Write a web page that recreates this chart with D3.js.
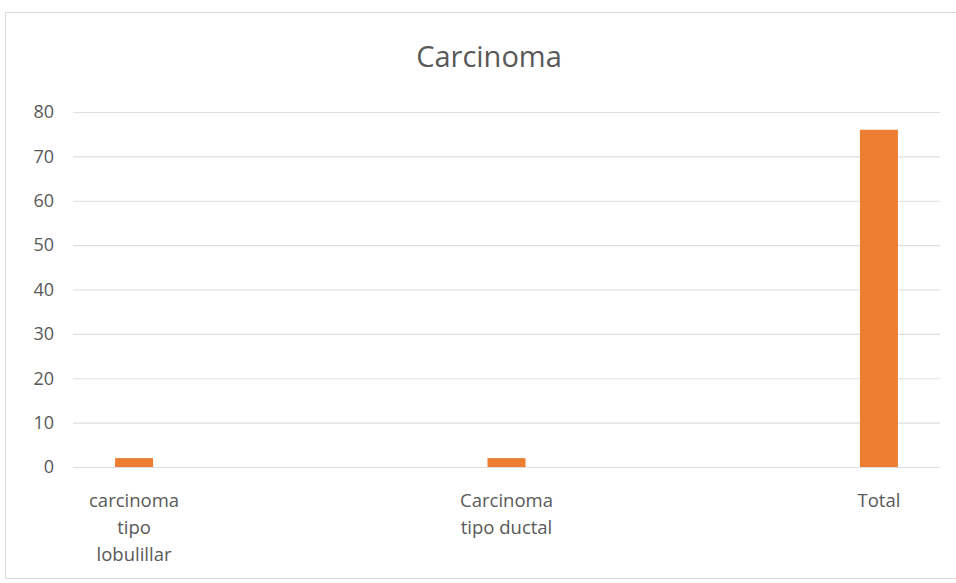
<!DOCTYPE html>
<html>
<head>
<meta charset="utf-8">
<script src="https://cdn.jsdelivr.net/npm/d3@7"></script>
<style>
  html, body { margin: 0; padding: 0; background: #fff; }
  svg { display: block; font-family: "Open Sans", Lato, sans-serif; }
</style>
</head>
<body>
<svg id="chart" width="956" height="583"></svg>
<script>
// Cases per carcinoma type
const categories = [["carcinoma", "tipo", "lobulillar"], ["Carcinoma", "tipo ductal"], ["Total"]];
const values = [2, 2, 76];
const yTicks = [0, 10, 20, 30, 40, 50, 60, 70, 80];
const title = "Carcinoma";

const svg = d3.select("#chart");
const W = 956;
const plot = { left: 73, right: 940, top: 112, bottom: 467 };
const font = '"Open Sans", Lato, sans-serif';

// chart frame
svg.append("rect")
  .attr("x", 5.5).attr("y", 12.5)
  .attr("width", W + 10).attr("height", 566)
  .attr("fill", "#fff").attr("stroke", "#d9d9d9").attr("stroke-width", 1);

svg.append("text")
  .attr("x", 489).attr("y", 67)
  .attr("text-anchor", "middle")
  .attr("font-family", font)
  .attr("font-size", 29)
  .attr("fill", "#595959")
  .text(title);

const keys = categories.map(c => c.join(" "));
const x = d3.scalePoint().domain(keys).range([plot.left, plot.right]).padding(0.164);
const y = d3.scaleLinear().domain([0, 80]).range([plot.bottom, plot.top]);

// gridlines and value labels
const yAxis = d3.axisLeft(y).tickValues(yTicks).tickSize(-(plot.right - plot.left)).tickPadding(19);
const gy = svg.append("g").attr("transform", `translate(${plot.left},0)`).call(yAxis);
gy.attr("font-family", font).attr("font-size", 18);
gy.select(".domain").remove();
gy.selectAll(".tick line").attr("stroke", "#dedede").attr("stroke-width", 1.2);
gy.selectAll(".tick text").attr("fill", "#595959");

// bars
const barW = 38;
svg.append("g").selectAll("rect")
  .data(values)
  .join("rect")
  .attr("x", (d, i) => x(keys[i]) - barW / 2)
  .attr("y", d => y(d))
  .attr("width", barW)
  .attr("height", d => y(0) - y(d))
  .attr("fill", "#ED7D31");

// category labels
const gx = svg.append("g");
categories.forEach((lines, i) => {
  const t = gx.append("text")
    .attr("x", x(keys[i]))
    .attr("y", 507)
    .attr("text-anchor", "middle")
    .attr("font-family", font)
    .attr("font-size", 18.5)
    .attr("fill", "#595959");
  lines.forEach((ln, j) => {
    t.append("tspan").attr("x", x(keys[i])).attr("dy", j === 0 ? 0 : 27).text(ln);
  });
});
</script>
</body>
</html>
